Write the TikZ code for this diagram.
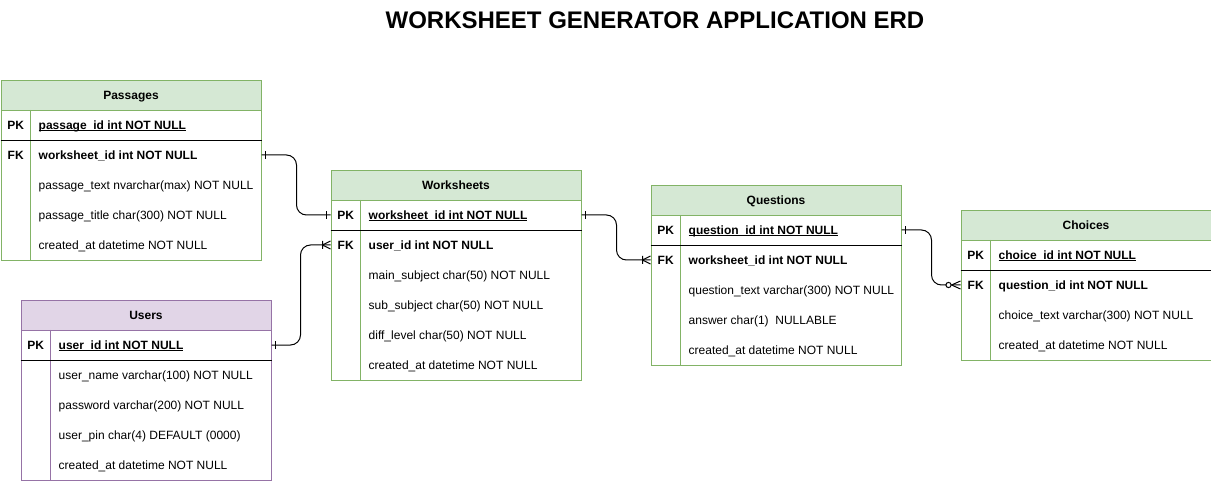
\documentclass[tikz,border=0pt]{standalone}
\usepackage{fontspec}
\setmainfont{Liberation Sans}
\usetikzlibrary{decorations.markings}

\newcommand{\keyline}[1]{\setbox0\hbox{#1}\rlap{\rule[-1.7pt]{\wd0}{0.9pt}}\box0}

\begin{document}
\begin{tikzpicture}[x=1pt,y=-1pt,
    ent/.style={draw=#1line, line width=1pt, anchor=north west, minimum width=250pt, inner sep=0pt},
    head/.style={draw=#1line, fill=#1fill, line width=1pt, anchor=north, minimum width=250pt, minimum height=30pt, inner sep=0pt, text height=10pt, text depth=1.4pt, font=\fontsize{12}{14}\selectfont\bfseries},
    key/.style={anchor=west, minimum width=30pt, minimum height=30pt, inner sep=0pt, text height=10pt, text depth=1.4pt, font=\fontsize{12}{14}\selectfont\bfseries},
    fld/.style={anchor=west, minimum height=30pt, inner xsep=8pt, inner ysep=0pt, text height=10pt, text depth=1.4pt, font=\fontsize{12}{14}\selectfont},
    rel/.style={line width=1pt, rounded corners=10pt},
    onestart/.style={postaction={decorate,decoration={markings,
      mark=at position 4pt with {\draw[line width=1pt] (0,-4pt) -- (0,4pt);}}}},
    oneend/.style={postaction={decorate,decoration={markings,
      mark=at position -4pt with {\draw[line width=1pt] (0,-4pt) -- (0,4pt);}}}},
    manyend/.style={postaction={decorate,decoration={markings,
      mark=at position -8pt with {\draw[line width=1pt] (0,-4pt) -- (0,4pt) (0,0) -- (8pt,4pt) (0,0) -- (8pt,-4pt);}}}},
    zmanyend/.style={postaction={decorate,decoration={markings,
      mark=at position -9pt with {\draw[line width=1pt] (0,0) -- (9pt,4pt) (0,0) -- (9pt,-4pt);
        \draw[line width=1pt,fill=white] (-3pt,0) circle (2.6pt);}}}}
  ]

\definecolor{greenfill}{RGB}{213,232,212}
\definecolor{greenline}{RGB}{130,179,102}
\definecolor{purplefill}{RGB}{225,213,231}
\definecolor{purpleline}{RGB}{150,115,166}

\useasboundingbox (0,0) rectangle (1211,481);

\node[font=\fontsize{24}{28}\selectfont\bfseries] (title) at (655,20) {WORKSHEET GENERATOR APPLICATION ERD};

% Passages
\node[ent=green, minimum width=260pt, minimum height=180pt] (pass) at (0.5,80) {};
\node[head=green, minimum width=260pt] (pass-h) at (pass.north) {Passages};
\node[key] (pass-pk-k) at (0.5,125) {PK};
\node[fld, font=\fontsize{12}{14}\selectfont\bfseries] (pass-pk) at (30.5,125) {\keyline{passage\_id int NOT NULL}};
\node[key] (pass-fk-k) at (0.5,155) {FK};
\node[fld, font=\fontsize{12}{14}\selectfont\bfseries] (pass-fk) at (30.5,155) {worksheet\_id int NOT NULL};
\node[fld] (pass-text) at (30.5,185) {passage\_text nvarchar(max) NOT NULL};
\node[fld] (pass-title) at (30.5,215) {passage\_title char(300) NOT NULL};
\node[fld] (pass-date) at (30.5,245) {created\_at datetime NOT NULL};
\draw[greenline,line width=1pt] (pass-pk-k.north east) -- (pass-pk-k.east |- pass.south);
\draw[line width=1pt] (pass-pk-k.south west) -- (pass-pk-k.south -| pass.east);

% Users
\node[ent=purple, minimum height=180pt] (usr) at (20.5,300) {};
\node[head=purple] (usr-h) at (usr.north) {Users};
\node[key] (usr-pk-k) at (20.5,345) {PK};
\node[fld, font=\fontsize{12}{14}\selectfont\bfseries] (usr-pk) at (50.5,345) {\keyline{user\_id int NOT NULL}};
\node[fld] (usr-name) at (50.5,375) {user\_name varchar(100) NOT NULL};
\node[fld] (usr-pass) at (50.5,405) {password varchar(200) NOT NULL};
\node[fld] (usr-pin) at (50.5,435) {user\_pin char(4) DEFAULT (0000)};
\node[fld] (usr-date) at (50.5,465) {created\_at datetime NOT NULL};
\draw[purpleline,line width=1pt] (usr-pk-k.north east) -- (usr-pk-k.east |- usr.south);
\draw[line width=1pt] (usr-pk-k.south west) -- (usr-pk-k.south -| usr.east);

% Worksheets
\node[ent=green, minimum height=210pt] (ws) at (330.5,170) {};
\node[head=green] (ws-h) at (ws.north) {Worksheets};
\node[key] (ws-pk-k) at (330.5,215) {PK};
\node[fld, font=\fontsize{12}{14}\selectfont\bfseries] (ws-pk) at (360.5,215) {\keyline{worksheet\_id int NOT NULL}};
\node[key] (ws-fk-k) at (330.5,245) {FK};
\node[fld, font=\fontsize{12}{14}\selectfont\bfseries] (ws-fk) at (360.5,245) {user\_id int NOT NULL};
\node[fld] (ws-main) at (360.5,275) {main\_subject char(50) NOT NULL};
\node[fld] (ws-sub) at (360.5,305) {sub\_subject char(50) NOT NULL};
\node[fld] (ws-diff) at (360.5,335) {diff\_level char(50) NOT NULL};
\node[fld] (ws-date) at (360.5,365) {created\_at datetime NOT NULL};
\draw[greenline,line width=1pt] (ws-pk-k.north east) -- (ws-pk-k.east |- ws.south);
\draw[line width=1pt] (ws-pk-k.south west) -- (ws-pk-k.south -| ws.east);

% Questions
\node[ent=green, minimum height=180pt] (q) at (650.5,185) {};
\node[head=green] (q-h) at (q.north) {Questions};
\node[key] (q-pk-k) at (650.5,230) {PK};
\node[fld, font=\fontsize{12}{14}\selectfont\bfseries] (q-pk) at (680.5,230) {\keyline{question\_id int NOT NULL}};
\node[key] (q-fk-k) at (650.5,260) {FK};
\node[fld, font=\fontsize{12}{14}\selectfont\bfseries] (q-fk) at (680.5,260) {worksheet\_id int NOT NULL};
\node[fld] (q-text) at (680.5,290) {question\_text varchar(300) NOT NULL};
\node[fld] (q-ans) at (680.5,320) {answer char(1)\ \ NULLABLE};
\node[fld] (q-date) at (680.5,350) {created\_at datetime NOT NULL};
\draw[greenline,line width=1pt] (q-pk-k.north east) -- (q-pk-k.east |- q.south);
\draw[line width=1pt] (q-pk-k.south west) -- (q-pk-k.south -| q.east);

% Choices
\node[ent=green, minimum height=150pt] (ch) at (960.5,210) {};
\node[head=green] (ch-h) at (ch.north) {Choices};
\node[key] (ch-pk-k) at (960.5,255) {PK};
\node[fld, font=\fontsize{12}{14}\selectfont\bfseries] (ch-pk) at (990.5,255) {\keyline{choice\_id int NOT NULL}};
\node[key] (ch-fk-k) at (960.5,285) {FK};
\node[fld, font=\fontsize{12}{14}\selectfont\bfseries] (ch-fk) at (990.5,285) {question\_id int NOT NULL};
\node[fld] (ch-text) at (990.5,315) {choice\_text varchar(300) NOT NULL};
\node[fld] (ch-date) at (990.5,345) {created\_at datetime NOT NULL};
\draw[greenline,line width=1pt] (ch-pk-k.north east) -- (ch-pk-k.east |- ch.south);
\draw[line width=1pt] (ch-pk-k.south west) -- (ch-pk-k.south -| ch.east);

\draw[rel,onestart,oneend] (pass-fk-k -| pass.east) -- ++(35,0) |- (ws-pk-k.west);
\draw[rel,onestart,manyend] (usr-pk-k -| usr.east) -- ++(29,0) |- (ws-fk-k.west);
\draw[rel,onestart,manyend] (ws-pk-k -| ws.east) -- ++(35,0) |- (q-fk-k.west);
\draw[rel,onestart,zmanyend] (q-pk-k -| q.east) -- ++(30,0) |- (ch-fk-k.west);

\end{tikzpicture}
\end{document}
